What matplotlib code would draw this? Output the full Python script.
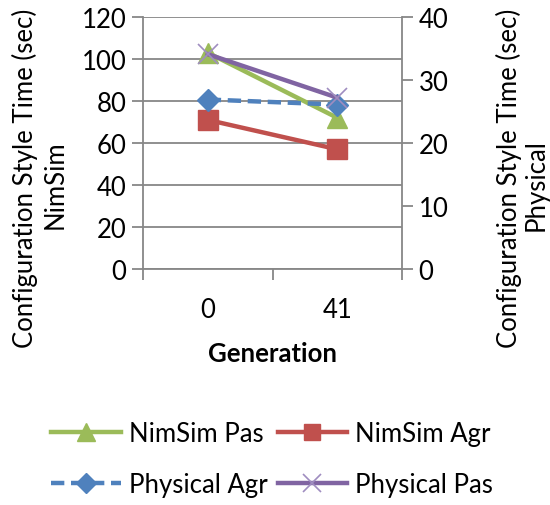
import matplotlib
matplotlib.use('Agg')
import matplotlib.pyplot as plt
from matplotlib.lines import Line2D

plt.rcParams['font.family'] = ['Lato', 'DejaVu Sans']

# data
generations = ['0', '41']
nimsim_pas = [103, 72]
nimsim_agr = [71, 57]
physical_agr = [26.9, 26.1]
physical_pas = [34.1, 27.2]

left_ticks = [0, 20, 40, 60, 80, 100, 120]
right_ticks = [0, 10, 20, 30, 40]

GREEN = '#9BBB59'
RED = '#C0504D'
BLUE = '#4F81BD'
PURPLE = '#8064A2'
GRID = '#878787'
FS = 18.5

fig = plt.figure(figsize=(5.5, 5.06), dpi=100)
W, H = 550, 506
ax = fig.add_axes([143 / W, 1 - 270 / H, (402 - 143) / W, (270 - 18) / H])
ax2 = ax.twinx()

x = list(range(len(generations)))

# primary axis (NimSim)
ax.plot(x, nimsim_pas, color=GREEN, lw=3.2, marker='^', ms=15, zorder=3,
        label='NimSim Pas')
ax.plot(x, nimsim_agr, color=RED, lw=3.2, marker='s', ms=14, zorder=3,
        label='NimSim Agr')

# secondary axis (Physical)
ax2.plot(x, physical_agr, color=BLUE, lw=3.2, ls=(0, (3, 1.5)), marker='D',
         ms=11, label='Physical Agr')
ax2.plot(x, physical_pas, color=PURPLE, lw=3.2, marker='x', ms=14, mew=1.2,
         mec='#9f8dc0', label='Physical Pas')

ax.set_xlim(-0.5, len(generations) - 0.5)
ax.set_ylim(0, 120)
ax2.set_ylim(0, 40)
ax.set_yticks(left_ticks)
ax2.set_yticks(right_ticks)
ax.set_xticks(x)
ax.set_xticklabels(generations, fontsize=FS)
ax.set_xticks([-0.5, 0.5, 1.5], minor=True)
ax.tick_params(axis='x', which='major', length=0, pad=20)
ax.tick_params(axis='x', which='minor', length=8, width=1.3, color=GRID,
               direction='out')
ax.tick_params(axis='y', length=8, width=1.3, color=GRID, labelsize=FS,
               pad=4)
ax2.tick_params(axis='y', length=8, width=1.3, color=GRID, labelsize=FS,
                pad=4)

ax.grid(axis='y', color=GRID, lw=1.3)
ax.set_axisbelow(True)
for a in (ax, ax2):
    a.spines['top'].set_visible(False)
    for s in ('left', 'right', 'bottom'):
        a.spines[s].set_color(GRID)
        a.spines[s].set_linewidth(1.3)
ax.spines['right'].set_visible(False)
ax2.spines['left'].set_visible(False)
ax2.spines['bottom'].set_visible(False)

ax.set_xlabel('Generation', fontsize=FS, fontweight='bold', labelpad=14)

fig.text(25 / W, 1 - 178 / H, 'Configuration Style Time (sec)', rotation=90,
         ha='center', va='center', fontsize=FS)
fig.text(55 / W, 1 - 185 / H, 'NimSim', rotation=90,
         ha='center', va='center', fontsize=FS)
fig.text(509 / W, 1 - 178 / H, 'Configuration Style Time (sec)', rotation=90,
         ha='center', va='center', fontsize=FS)
fig.text(536 / W, 1 - 185 / H, 'Physical', rotation=90,
         ha='center', va='center', fontsize=FS)

handles = [
    Line2D([], [], color=GREEN, lw=3.2, marker='^', ms=13),
    Line2D([], [], color=BLUE, lw=3.2, ls=(0, (3, 1.5)), marker='D', ms=10),
    Line2D([], [], color=RED, lw=3.2, marker='s', ms=12),
    Line2D([], [], color=PURPLE, lw=3.2, marker='x', ms=13, mew=1.2,
           mec='#9f8dc0'),
]
labels = ['NimSim Pas', 'Physical Agr', 'NimSim Agr', 'Physical Pas']
fig.legend(handles, labels, ncol=2, loc='center', frameon=False,
           bbox_to_anchor=(272 / W, 1 - 460 / H), fontsize=FS,
           handlelength=2.7, handletextpad=0.3, columnspacing=0.4,
           labelspacing=1.0)

fig.savefig('out.png', dpi=100)
